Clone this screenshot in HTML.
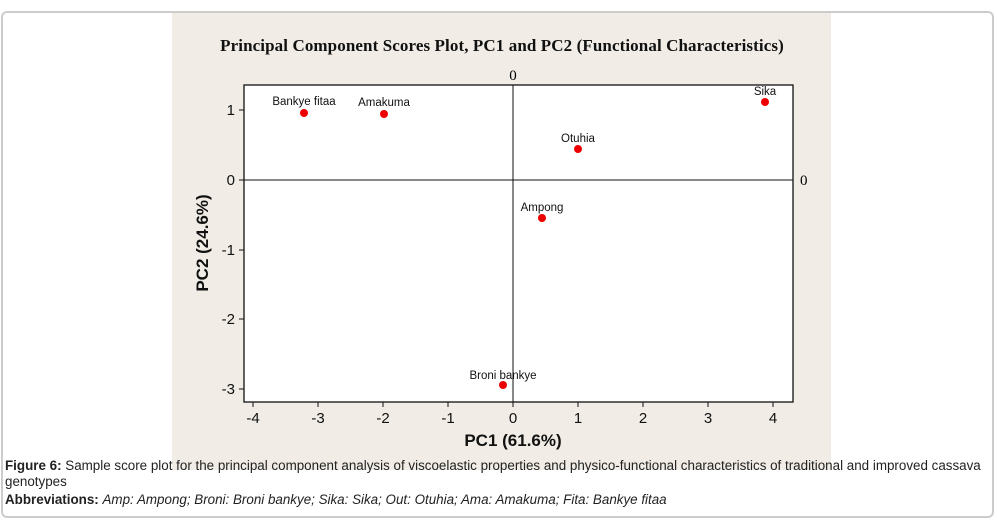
<!DOCTYPE html>
<html><head><style>
body{margin:0;width:997px;height:527px;background:#fff;position:relative;overflow:hidden;font-family:"Liberation Sans",sans-serif}
.box{position:absolute;left:1px;top:11px;width:989px;height:503px;border:2px solid #ccc;border-radius:6px;}
.bg{position:absolute;left:172px;top:13px;width:659px;height:457px;background:#f1ede6}
.cap{position:absolute;left:5px;font-size:13.4px;line-height:16px;color:#222}
</style></head><body>
<div class="box"></div>
<div class="bg"></div>
<svg style="position:absolute;left:0;top:0" width="997" height="527">
<text x="502" y="51" text-anchor="middle" font-family="Liberation Serif" font-weight="bold" font-size="17" letter-spacing="0.1" fill="#111">Principal Component Scores Plot, PC1 and PC2 (Functional Characteristics)</text>
<rect x="244" y="85" width="549" height="317" fill="#fff" stroke="#111" stroke-width="1.3"/>
<line x1="513" y1="85" x2="513" y2="402" stroke="#111"/>
<line x1="244" y1="180" x2="793" y2="180" stroke="#111"/>
<text x="513" y="80" text-anchor="middle" font-family="Liberation Serif" font-size="15">0</text>
<text x="800" y="185" font-family="Liberation Serif" font-size="15">0</text>
<g font-size="15" text-anchor="middle" fill="#111">
<g stroke="#111">
<line x1="253" y1="402" x2="253" y2="407"/><line x1="318" y1="402" x2="318" y2="407"/><line x1="383" y1="402" x2="383" y2="407"/><line x1="448" y1="402" x2="448" y2="407"/><line x1="513" y1="402" x2="513" y2="407"/><line x1="578" y1="402" x2="578" y2="407"/><line x1="643" y1="402" x2="643" y2="407"/><line x1="708" y1="402" x2="708" y2="407"/><line x1="773" y1="402" x2="773" y2="407"/>
<line x1="239" y1="110" x2="244" y2="110"/><line x1="239" y1="180" x2="244" y2="180"/><line x1="239" y1="250" x2="244" y2="250"/><line x1="239" y1="319" x2="244" y2="319"/><line x1="239" y1="389" x2="244" y2="389"/>
</g>
<text x="253" y="423">-4</text><text x="318" y="423">-3</text><text x="383" y="423">-2</text><text x="448" y="423">-1</text><text x="513" y="423">0</text><text x="578" y="423">1</text><text x="643" y="423">2</text><text x="708" y="423">3</text><text x="773" y="423">4</text>
</g>
<g font-size="15" text-anchor="end" fill="#111">
<text x="235" y="115">1</text><text x="235" y="185">0</text><text x="235" y="255">-1</text><text x="235" y="324">-2</text><text x="235" y="394">-3</text>
</g>
<text x="513" y="446" text-anchor="middle" font-weight="bold" font-size="17" fill="#111">PC1 (61.6%)</text>
<text transform="translate(208,243) rotate(-90)" text-anchor="middle" font-weight="bold" font-size="17" fill="#111">PC2 (24.6%)</text>
<g fill="#e00">
<circle cx="304" cy="113" r="4"/><circle cx="384" cy="114" r="4"/><circle cx="765" cy="102" r="4"/><circle cx="578" cy="149" r="4"/><circle cx="542" cy="218" r="4"/><circle cx="503" cy="385" r="4"/>
</g>
<g font-size="11.5" text-anchor="middle" fill="#111">
<text x="304" y="105">Bankye fitaa</text><text x="384" y="106">Amakuma</text><text x="765" y="95">Sika</text><text x="578" y="142">Otuhia</text><text x="542" y="211">Ampong</text><text x="503" y="379">Broni bankye</text>
</g>
</svg>
<div class="cap" style="top:458px"><b>Figure 6:</b> Sample score plot for the principal component analysis of viscoelastic properties and physico-functional characteristics of traditional and improved cassava<br>genotypes</div>
<div class="cap" style="top:492px"><b>Abbreviations:</b> <i>Amp: Ampong; Broni: Broni bankye; Sika: Sika; Out: Otuhia; Ama: Amakuma; Fita: Bankye fitaa</i></div>
</body></html>
